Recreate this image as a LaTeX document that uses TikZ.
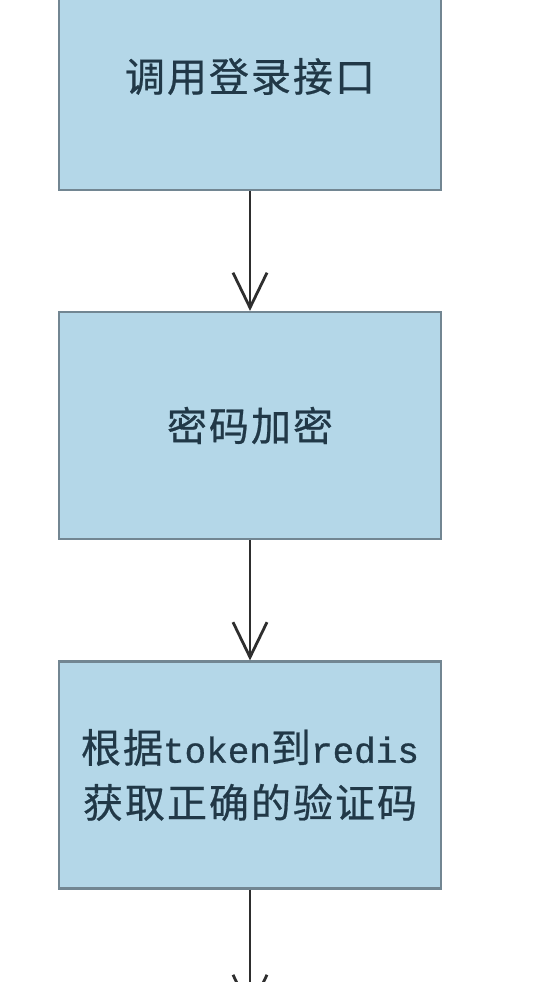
\documentclass[tikz,border=0pt]{standalone}
\usepackage{fontspec}
\setmainfont{Noto Sans CJK SC}[LetterSpace=5,FakeBold=0.6]
\newfontfamily\lat{Liberation Mono}[FakeBold=0.8]
\usetikzlibrary{arrows.meta}
\definecolor{boxfill}{HTML}{B4D7E8}
\definecolor{boxline}{HTML}{728692}
\definecolor{txt}{HTML}{213847}
\definecolor{arr}{HTML}{2E2E2E}
\tikzset{
  stepbox/.style={rectangle, draw=boxline, line width=2.2pt, fill=boxfill,
    minimum width=382pt, minimum height=227pt, inner sep=0pt,
    text=txt, align=center, font=\fontsize{40}{55}\selectfont},
  flow/.style={draw=arr, line width=2.8pt,
    -{Straight Barb[length=35pt,width=34pt,line width=2.8pt]}}
}
\begin{document}
\begin{tikzpicture}[x=1pt,y=-1pt]
\useasboundingbox (0,0) rectangle (554,982);
\clip (0,0) rectangle (554,982);
\fill[white] (0,0) rectangle (554,982);
\node[stepbox] (a) at (250,76.5) {调用登录接口};
\node[stepbox] (b) at (250,425.5) {密码加密};
\node[stepbox] (c) at (250,775) {根据{\lat\fontsize{36}{55}\selectfont token}到{\lat\fontsize{36}{55}\selectfont redis}\\获取正确的验证码};
\coordinate (d) at (250,1013);
\draw[flow] (a.south) -- (b.north);
\draw[flow] (b.south) -- (c.north);
\draw[flow] (c.south) -- (d);
\end{tikzpicture}
\end{document}
